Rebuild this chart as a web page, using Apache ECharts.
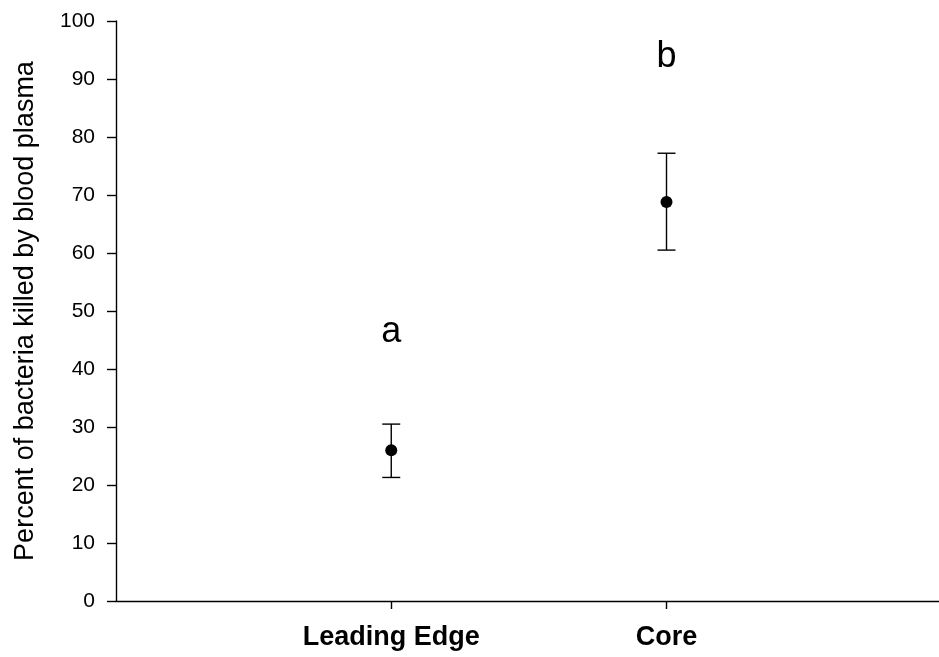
<!DOCTYPE html>
<html><head><meta charset="utf-8">
<script src="https://cdn.jsdelivr.net/npm/echarts@6/dist/echarts.min.js"></script>
<style>html,body{margin:0;padding:0;background:#fff}#c{width:939px;height:657px}</style>
</head><body><div id="c"></div>
<script>
const categories = ['Leading Edge', 'Core'];
const xPos = [1, 2];
const means = [26.0, 68.8];
const errLow = [21.3, 60.5];
const errHigh = [30.5, 77.2];
const letters = ['a', 'b'];
const letterY = [46.3, 93.8];
const yTicks = [0, 10, 20, 30, 40, 50, 60, 70, 80, 90, 100];

const chart = echarts.init(document.getElementById('c'));
const font = '"Liberation Sans", Arial, sans-serif';
chart.setOption({
  animation: false,
  grid: { left: 116, right: 0, top: 21, bottom: 56 },
  xAxis: {
    type: 'value', min: 0, max: 2.99,
    splitLine: { show: false },
    axisLine: { show: true, lineStyle: { color: '#000', width: 1.4 } },
    axisTick: { show: true, length: 8, customValues: xPos, lineStyle: { color: '#000', width: 1.4 } },
    axisLabel: {
      customValues: xPos,
      formatter: v => { const i = xPos.indexOf(v); return i >= 0 ? categories[i] : ''; },
      color: '#000', fontFamily: font, fontWeight: 'bold', fontSize: 27, margin: 23
    }
  },
  yAxis: {
    type: 'value', min: 0, max: 100, interval: 10,
    splitLine: { show: false },
    axisLine: { show: true, lineStyle: { color: '#000', width: 1.4 } },
    axisTick: { show: true, length: 9, lineStyle: { color: '#000', width: 1.4 } },
    axisLabel: {
      formatter: v => (yTicks.indexOf(v) >= 0 ? String(v) : ''),
      color: '#000', fontFamily: font, fontSize: 21, margin: 21
    },
    name: 'Percent of bacteria killed by blood plasma',
    nameLocation: 'middle', nameRotate: 90, nameGap: 77,
    nameTextStyle: { color: '#000', fontFamily: font, fontSize: 27 }
  },
  series: [
    {
      type: 'custom',
      data: xPos.map((x, i) => [x, errLow[i], errHigh[i]]),
      renderItem: (params, api) => {
        const x = api.value(0);
        const lo = api.coord([x, api.value(1)]);
        const hi = api.coord([x, api.value(2)]);
        const hw = 9;
        const st = { stroke: '#000', lineWidth: 1.4 };
        return { type: 'group', children: [
          { type: 'line', shape: { x1: lo[0], y1: lo[1], x2: hi[0], y2: hi[1] }, style: st },
          { type: 'line', shape: { x1: lo[0] - hw, y1: lo[1], x2: lo[0] + hw, y2: lo[1] }, style: st },
          { type: 'line', shape: { x1: hi[0] - hw, y1: hi[1], x2: hi[0] + hw, y2: hi[1] }, style: st }
        ]};
      },
      z: 2
    },
    {
      type: 'scatter',
      data: xPos.map((x, i) => [x, means[i]]),
      symbol: 'circle', symbolSize: 12,
      itemStyle: { color: '#000', opacity: 1 },
      z: 3
    },
    {
      type: 'scatter',
      data: xPos.map((x, i) => [x, letterY[i]]),
      symbolSize: 0,
      itemStyle: { opacity: 1 },
      label: {
        show: true, position: 'inside',
        formatter: p => letters[p.dataIndex],
        color: '#000', fontFamily: font, fontSize: 36
      }
    }
  ]
});
</script></body></html>
